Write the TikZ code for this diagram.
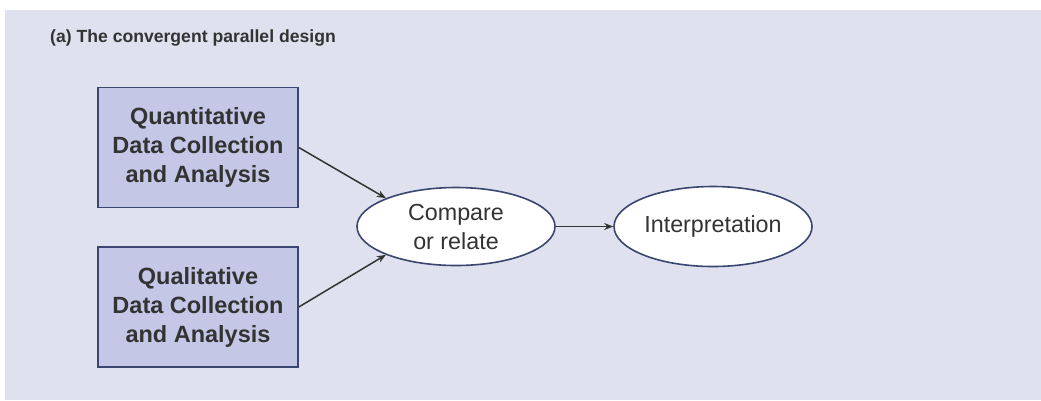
\documentclass[tikz,border=0pt]{standalone}
\usepackage{fontspec}
\setmainfont{Liberation Sans}
\usetikzlibrary{shapes.geometric,arrows.meta}

\definecolor{panelbg}{HTML}{DFE1EF}
\definecolor{boxfill}{HTML}{C4C8E6}
\definecolor{boxline}{HTML}{3B4670}
\definecolor{inkgray}{HTML}{333333}

\begin{document}
\begin{tikzpicture}[x=1pt, y=-1pt,
    databox/.style={draw=boxline, fill=boxfill, line width=1.6pt, minimum width=200pt,
        minimum height=120pt, align=center, text=inkgray,
        font=\fontsize{23.5}{29}\selectfont\bfseries},
    stage/.style={ellipse, draw=boxline, fill=white, line width=1.6pt, inner sep=0pt,
        align=center, text=inkgray, font=\fontsize{23.3}{29}\selectfont},
    arr/.style={-{Stealth[length=9pt,width=7pt]}, line width=1.5pt, draw=inkgray}]
    % panel
    \useasboundingbox (0,0) rectangle (1041,400);
    \fill[panelbg] (5,10) rectangle (1041,400);

    % title
    \node[anchor=base west, inner sep=0pt, text=inkgray,
        font=\fontsize{17.6}{21}\selectfont\bfseries] (title) at (50,42)
        {(a) The convergent parallel design};

    % data strands
    \node[databox] (quan) at (198,147.5) {Quantitative\\Data Collection\\and Analysis};
    \node[databox] (qual) at (198,307) {Qualitative\\Data Collection\\and Analysis};

    % merge and interpret
    \node[stage, minimum width=198pt, minimum height=78pt] (cmp) at (456,226.5) {Compare\\or relate};
    \node[stage, minimum width=198pt, minimum height=80pt] (interp) at (713,226.5) {Interpretation};

    % arrows
    \draw[arr] (quan.east) -- (cmp.158);
    \draw[arr] (qual.east) -- (cmp.202);
    \draw[arr] (cmp.east) -- (interp.west);
\end{tikzpicture}
\end{document}
